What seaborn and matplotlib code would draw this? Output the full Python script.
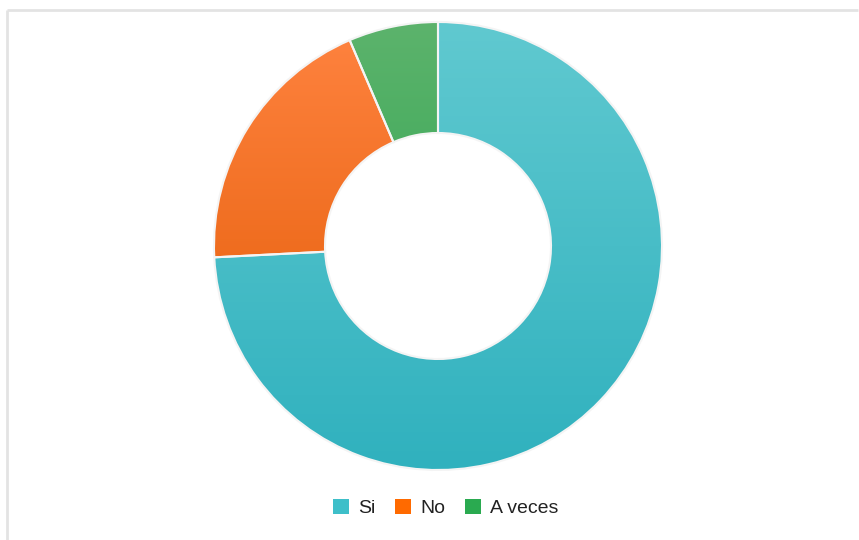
import numpy as np
import matplotlib
matplotlib.use("Agg")
import matplotlib.pyplot as plt
import seaborn as sns
from matplotlib.patches import Patch
from matplotlib.colors import LinearSegmentedColormap

sns.set_style("white")
plt.rcParams['font.family'] = ['Liberation Sans', 'DejaVu Sans']

categories = ["Si", "No", "A veces"]
values = [23, 6, 2]
top_colors = ["#60c9d0", "#ff8340", "#5cb36c"]
bottom_colors = ["#30b1be", "#e05800", "#21a147"]
legend_colors = ["#3ebfc9", "#ff6a00", "#2aaa50"]

W, H = 859, 540
fig = plt.figure(figsize=(W / 100, H / 100), dpi=100)
ax = fig.add_axes([0, 0, 1, 1])

cx, cy = 438, H - 246
R = 224
width = 111

wedges, _ = ax.pie(values, center=(cx, cy), radius=R, startangle=90,
                   counterclock=False, colors=legend_colors,
                   wedgeprops=dict(width=width, linewidth=0))
ax.set_xlim(0, W)
ax.set_ylim(0, H)
ax.set_aspect("equal")
ax.axis("off")

grad = np.linspace(0, 1, 256).reshape(-1, 1)
for w, tc, bc in zip(wedges, top_colors, bottom_colors):
    cmap = LinearSegmentedColormap.from_list("g", [bc, tc])
    im = ax.imshow(grad, cmap=cmap, origin="lower",
                   extent=[cx - R, cx + R, cy - R, cy + R], aspect="auto", zorder=2)
    im.set_clip_path(w)
    w.set_facecolor("none")
    w.set_edgecolor("#f4f4f4")
    w.set_linewidth(1.5)
    w.set_zorder(3)
ax.set_xlim(0, W)
ax.set_ylim(0, H)

# frame lines (top and left)
ax.plot([7, W - 1], [H - 10, H - 10], color="#e3e3e3", lw=2, solid_capstyle="butt", zorder=1)
ax.plot([7, 7], [0, H - 10], color="#e3e3e3", lw=2, solid_capstyle="butt", zorder=1)

handles = [Patch(facecolor=c, edgecolor="none", label=l) for c, l in zip(legend_colors, categories)]
leg = fig.legend(handles=handles, loc="center", bbox_to_anchor=(446 / W, 1 - 508 / H),
                 ncol=3, frameon=False, fontsize=14, handlelength=0.8, handleheight=0.8,
                 handletextpad=0.5, columnspacing=1.0)
for t in leg.get_texts():
    t.set_color("#222222")

fig.savefig("out.png", dpi=100)
